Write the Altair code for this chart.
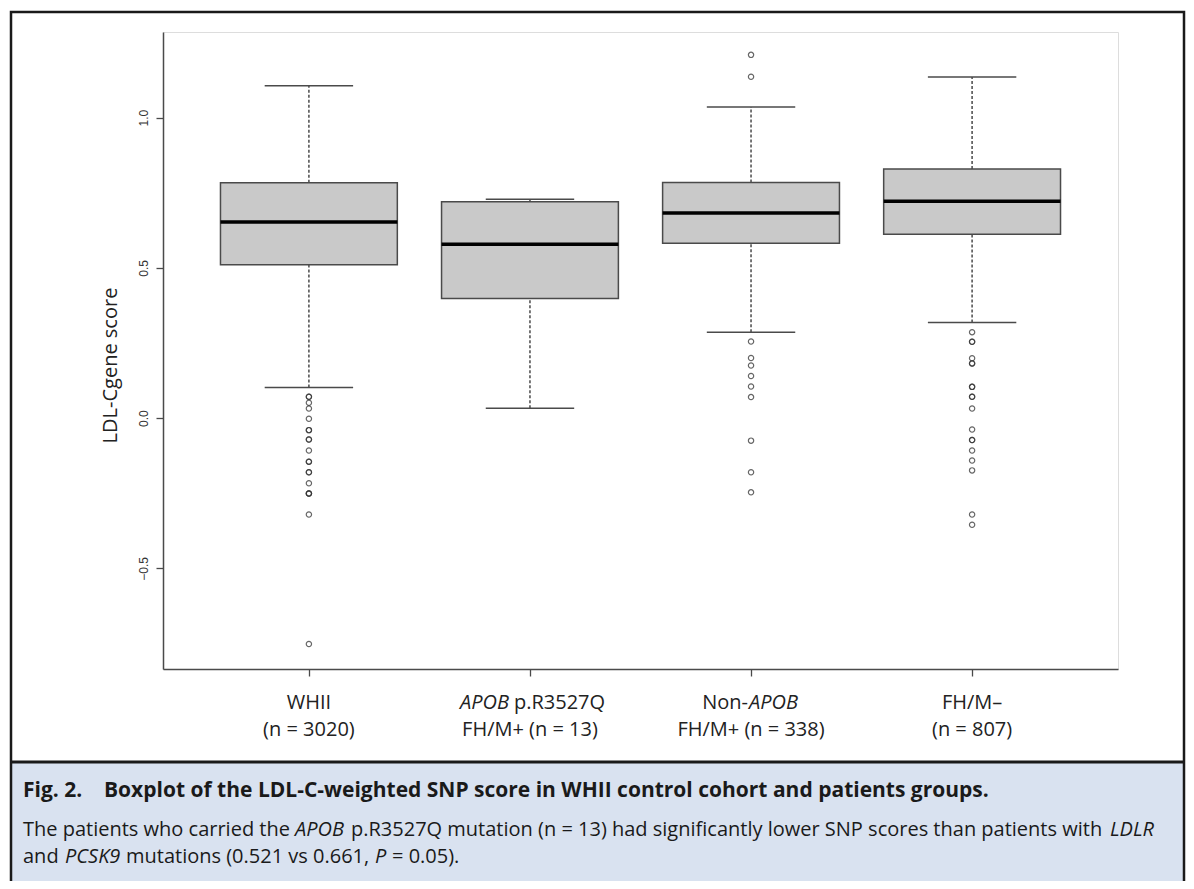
import altair as alt
import pandas as pd

# ---------------- data ----------------
groups = ["WHII", "APOB p.R3527Q FH/M+", "Non-APOB FH/M+", "FH/M-"]
positions = [1, 2, 3, 4]
lower_whisker = [0.102, 0.033, 0.286, 0.318]
q1 = [0.510, 0.398, 0.582, 0.612]
median = [0.653, 0.579, 0.683, 0.722]
q3 = [0.783, 0.720, 0.784, 0.829]
upper_whisker = [1.106, 0.728, 1.035, 1.135]

outliers_whii = [0.071, 0.071, 0.051, 0.032, -0.002, -0.040, -0.040, -0.071, -0.071,
                 -0.108, -0.145, -0.145, -0.180, -0.180, -0.217, -0.251, -0.251,
                 -0.251, -0.321, -0.752]
outliers_apob = []
outliers_nonapob = [1.209, 1.136, 0.255, 0.200, 0.175, 0.140, 0.105, 0.070,
                    -0.075, -0.180, -0.247]
outliers_fhm = [0.286, 0.254, 0.254, 0.199, 0.182, 0.182, 0.104, 0.104, 0.071,
                0.071, 0.032, -0.038, -0.073, -0.073, -0.108, -0.141, -0.174,
                -0.321, -0.355]

y_ticks = [-0.5, 0.0, 0.5, 1.0]
y_title = "LDL-Cgene score"

label_line1 = ["WHII", "APOB", "Non-", "FH/M\u2013"]
label_line1b = ["", "p.R3527Q", "APOB", ""]
n_labels = ["(n = 3020)", "FH/M+ (n = 13)", "FH/M+ (n = 338)", "(n = 807)"]

cap1 = ["Fig. 2.", "Boxplot of the LDL-C-weighted SNP score in WHII control cohort and patients groups."]
cap2 = ["The patients who carried the", "APOB",
        "p.R3527Q mutation (n = 13) had significantly lower SNP scores than patients with",
        "LDLR"]
cap3 = ["and", "PCSK9", "mutations (0.521 vs 0.661,", "P", "= 0.05)."]

# ---------------- tables ----------------
box_df = pd.DataFrame({
    "group": groups, "pos": positions, "lw": lower_whisker, "q1": q1,
    "med": median, "q3": q3, "uw": upper_whisker,
})
out_rows = []
for p, vals in zip(positions, [outliers_whii, outliers_apob, outliers_nonapob, outliers_fhm]):
    for v in vals:
        out_rows.append({"pos": p, "value": v})
out_df = pd.DataFrame(out_rows)
lab_df = pd.DataFrame({"pos": positions, "l1a": label_line1, "l1b": label_line1b,
                       "nlab": n_labels})
one = pd.DataFrame({"a": [0]})

# ---------------- scales / axes ----------------
LINE = "#4a4a4a"
x_scale = alt.Scale(domain=[0.34, 4.66], nice=False, zero=False)
y_scale = alt.Scale(domain=[-0.835, 1.285], nice=False, zero=False)
x_axis = alt.Axis(values=positions, labels=False, title=None, grid=False,
                  tickSize=7, tickColor=LINE, tickWidth=1.3,
                  domainColor=LINE, domainWidth=1.5)
y_axis = alt.Axis(values=y_ticks, format=".1f", grid=False, title=y_title,
                  tickSize=7, tickColor=LINE, tickWidth=1.3,
                  domainColor=LINE, domainWidth=1.5,
                  labelAngle=270, labelAlign="center", labelBaseline="bottom",
                  labelPadding=6, labelFont="Liberation Sans", labelFontSize=12,
                  labelColor="#333",
                  titleFont="Open Sans", titleFontSize=20, titleFontWeight="normal",
                  titleColor="#222", titleAngle=270, titleAlign="center",
                  titleBaseline="middle", titleX=-53, titleY=333)


def X(field):
    return alt.X(field, scale=x_scale, axis=x_axis)


def Y(field):
    return alt.Y(field, scale=y_scale, axis=y_axis)


base = alt.Chart(box_df)

whisk_up = base.mark_rule(color=LINE, strokeWidth=1.5, strokeDash=[3, 2]).encode(
    x=X("pos:Q"), y=Y("q3:Q"), y2="uw:Q")
whisk_lo = base.mark_rule(color=LINE, strokeWidth=1.5, strokeDash=[3, 2]).encode(
    x=X("pos:Q"), y=Y("lw:Q"), y2="q1:Q")

capped = base.transform_calculate(c1="datum.pos - 0.2", c2="datum.pos + 0.2")
cap_up = capped.mark_rule(color=LINE, strokeWidth=1.5).encode(
    x=X("c1:Q"), x2="c2:Q", y=Y("uw:Q"))
cap_lo = capped.mark_rule(color=LINE, strokeWidth=1.5).encode(
    x=X("c1:Q"), x2="c2:Q", y=Y("lw:Q"))

boxed = base.transform_calculate(b1="datum.pos - 0.4", b2="datum.pos + 0.4")
boxes = boxed.mark_rect(fill="#c9c9c9", stroke=LINE, strokeWidth=1.5).encode(
    x=X("b1:Q"), x2="b2:Q", y=Y("q1:Q"), y2="q3:Q")
medians = boxed.mark_rule(color="#000000", strokeWidth=3.5).encode(
    x=X("b1:Q"), x2="b2:Q", y=Y("med:Q"))

points = alt.Chart(out_df).mark_point(shape="circle", filled=False, size=28,
                                      color="#333", strokeWidth=1.2, opacity=0.75).encode(
    x=X("pos:Q"), y=Y("value:Q"))

# ---------------- x labels ----------------
LF = "Open Sans"
LS = 20
Y1 = 671
Y2 = 698


def lab(df, field, ypx, dx=0, align="center", italic=False):
    return alt.Chart(df).mark_text(
        font=LF, fontSize=LS, color="#222", align=align, baseline="middle", dx=dx,
        fontStyle="italic" if italic else "normal").encode(
        x=X("pos:Q"), y=alt.value(ypx), text=f"{field}:N")


g1 = lab_df.iloc[[0]]
g2 = lab_df.iloc[[1]]
g3 = lab_df.iloc[[2]]
g4 = lab_df.iloc[[3]]

labels = [
    lab(g1, "l1a", Y1),
    lab(g4, "l1a", Y1),
    lab(g2, "l1a", Y1, dx=-21, align="right", italic=True),
    lab(g2, "l1b", Y1, dx=-16, align="left"),
    lab(g3, "l1a", Y1, dx=-3, align="right"),
    lab(g3, "l1b", Y1, dx=-2, align="left", italic=True),
    lab(lab_df, "nlab", Y2),
]

# ---------------- figure frame and caption ----------------
L, R = -152, 1021
cap_bg = alt.Chart(one).mark_rect(fill="#d9e2f0").encode(
    x=alt.value(L), x2=alt.value(R), y=alt.value(730), y2=alt.value(900))
cap_line = alt.Chart(one).mark_rule(color="#1a1a1a", strokeWidth=3).encode(
    x=alt.value(L), x2=alt.value(R), y=alt.value(730))
frame = alt.Chart(one).mark_rect(fill="transparent", stroke="#1a1a1a", strokeWidth=2.5).encode(
    x=alt.value(L), x2=alt.value(R), y=alt.value(-20), y2=alt.value(900))

CF = "Open Sans"
CS = 20


def ctext(txt, xpx, ypx, bold=False, italic=False, size=CS):
    return alt.Chart(pd.DataFrame({"t": [txt]})).mark_text(
        font=CF, fontSize=size, color="#1a1a1a", align="left", baseline="middle",
        fontWeight="bold" if bold else "normal",
        fontStyle="italic" if italic else "normal").encode(
        x=alt.value(xpx), y=alt.value(ypx), text="t:N")


O = -163  # page x -> chart x
L2 = 798
L3 = 825
captions = [
    ctext(cap1[0], 23 + O, 759, bold=True, size=21),
    ctext(cap1[1], 104 + O, 759, bold=True, size=21),
    ctext(cap2[0], 23 + O, L2),
    ctext(cap2[1], 295 + O, L2, italic=True),
    ctext(cap2[2], 351 + O, L2),
    ctext(cap2[3], 1110 + O, L2, italic=True),
    ctext(cap3[0], 23 + O, L3),
    ctext(cap3[1], 65 + O, L3, italic=True),
    ctext(cap3[2], 126 + O, L3),
    ctext(cap3[3], 375 + O, L3, italic=True),
    ctext(cap3[4], 392 + O, L3),
]

chart = alt.layer(
    cap_bg, cap_line, frame,
    whisk_up, whisk_lo, cap_up, cap_lo, boxes, medians, points,
    *labels, *captions,
).properties(
    width=955, height=637,
    autosize=alt.AutoSizeParams(type="none"),
    padding={"left": 155, "top": 24, "right": 68, "bottom": 212},
).configure_view(stroke=LINE, strokeWidth=1.5).configure(background="white")

chart.save("out.html", embed_options={"renderer": "svg", "actions": False})
